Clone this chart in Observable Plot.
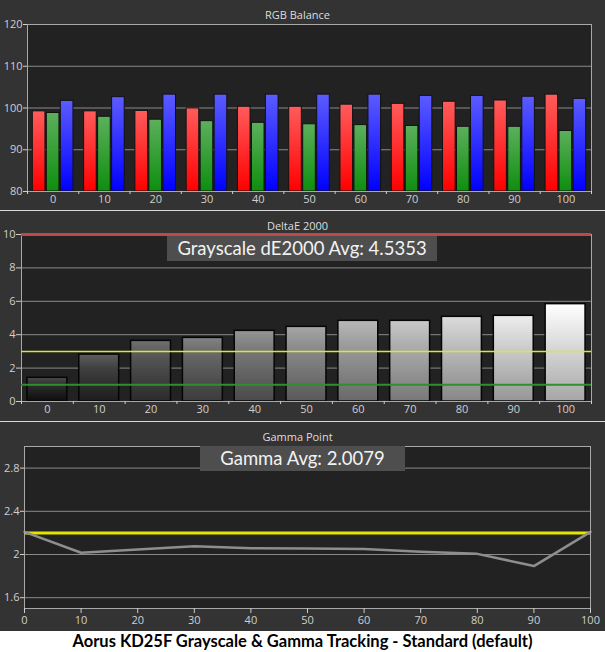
<!DOCTYPE html>
<html>
<head>
<meta charset="utf-8">
<script src="https://cdn.jsdelivr.net/npm/d3@7"></script>
<script src="https://cdn.jsdelivr.net/npm/@observablehq/plot@0.6"></script>
<style>
  html, body { margin: 0; padding: 0; background: #ffffff; }
  #root { width: 605px; height: 652px; position: relative; overflow: hidden; }
  .panel { position: relative; background: #333333; width: 605px; }
  .sep { height: 1px; background: #d9d9d9; }
  .title { box-sizing: border-box; padding-top: 7px; padding-right: 10px; line-height: 16px;
           font-family: "Open Sans", sans-serif; font-size: 11px; color: #dddddd; text-align: center; }
  .panel svg { display: block; }
  .stat { position: absolute; background: #4e4e4e; color: #f2f2f2; font-family: Lato, sans-serif;
          font-size: 18.5px; text-align: center; height: 25px; line-height: 25px; white-space: nowrap; }
  .caption { height: 21px; background: #ffffff; color: #000000; font-family: Lato, sans-serif;
             font-weight: bold; font-size: 16.5px; text-align: center; line-height: 21px; white-space: nowrap; }
</style>
</head>
<body>
<div id="root">
  <div class="panel" id="p1" style="height:210px"><div class="title" style="height:23px">RGB Balance</div></div>
  <div class="sep"></div>
  <div class="panel" id="p2" style="height:210px"><div class="title" style="height:22px">DeltaE 2000</div></div>
  <div class="sep"></div>
  <div class="panel" id="p3" style="height:209px"><div class="title" style="height:23px">Gamma Point</div></div>
  <div class="caption" id="caption"></div>
</div>
<script>
// ---------- data ----------
const levels = [0, 10, 20, 30, 40, 50, 60, 70, 80, 90, 100];
const red   = [99.2, 99.2, 99.3, 99.9, 100.3, 100.3, 100.8, 101.0, 101.5, 101.8, 103.2];
const green = [98.8, 97.9, 97.2, 96.85, 96.45, 96.1, 95.9, 95.7, 95.5, 95.5, 94.5];
const blue  = [101.7, 102.6, 103.2, 103.2, 103.2, 103.2, 103.2, 102.9, 102.9, 102.7, 102.2];
const rgbTicks = [80, 90, 100, 110, 120];

const deltaE = [1.42, 2.81, 3.63, 3.81, 4.23, 4.47, 4.83, 4.83, 5.07, 5.13, 5.83];
const deltaETicks = [0, 2, 4, 6, 8, 10];
const deltaELimitHigh = [10];
const deltaELimitVisible = [3];
const deltaELimitInvisible = [1];
const deltaEAvgText = "Grayscale dE2000 Avg: 4.5353";

const gamma = [2.21, 2.016, 2.046, 2.076, 2.058, 2.055, 2.052, 2.025, 2.006, 1.893, 2.21];
const gammaTicks = [1.6, 2, 2.4, 2.8];
const gammaTarget = [2.2];
const gammaAvgText = "Gamma Avg: 2.0079";

const captionText = "Aorus KD25F Grayscale & Gamma Tracking - Standard (default)";

// ---------- helpers ----------
const baseStyle = { background: "transparent", color: "#cfcfcf", fontFamily: "Open Sans, sans-serif", fontSize: "11px", overflow: "visible" };
const boundaries = [levels[0] - 5, ...levels.map(l => l + 5)];

function addGradients(svg, specs) {
  const defs = d3.select(svg).insert("defs", ":first-child");
  for (const s of specs) {
    const g = defs.append("linearGradient").attr("id", s.id)
      .attr("x1", 0).attr("y1", 0).attr("x2", 0).attr("y2", 1);
    for (const [o, c] of s.stops) g.append("stop").attr("offset", o).attr("stop-color", c);
  }
}

// ---------- panel 1: RGB balance ----------
const channels = [
  { key: "R", values: red,   offset: -2.73, stops: [[0, "#ff5c5c"], [1, "#ff0000"]] },
  { key: "G", values: green, offset: 0,     stops: [[0, "#5cb05c"], [1, "#0e8e0e"]] },
  { key: "B", values: blue,  offset: 2.73,  stops: [[0, "#5c5cff"], [1, "#0000ff"]] }
];
const offsetOf = Object.fromEntries(channels.map(c => [c.key, c.offset]));
const rgbData = channels.flatMap(c => levels.map((l, i) => ({ level: l, channel: c.key, value: c.values[i] })));
const rgbDomain = [rgbTicks[0], rgbTicks[rgbTicks.length - 1]];
const rgbHalf = 1.23;

const plot1 = Plot.plot({
  width: 605, height: 187, marginTop: 1, marginBottom: 19, marginLeft: 27, marginRight: 14,
  style: baseStyle,
  x: { domain: [-5, 105] },
  y: { domain: rgbDomain },
  color: { type: "identity" },
  marks: [
    Plot.frame({ fill: "#222222" }),
    Plot.ruleY(rgbTicks.slice(1, -1), { stroke: "#8a8a8a" }),
    Plot.rect(rgbData, {
      x1: d => d.level + offsetOf[d.channel] - rgbHalf,
      x2: d => d.level + offsetOf[d.channel] + rgbHalf,
      y1: rgbDomain[0], y2: "value",
      fill: d => `url(#grad-${d.channel})`, stroke: "#121212", strokeWidth: 1
    }),
    Plot.frame({ stroke: "#a8a8a8" }),
    Plot.axisY({ ticks: rgbTicks, tickSize: 4, tickPadding: 1, label: null }),
    Plot.axisX({ ticks: levels, tickSize: 0, tickPadding: 4, label: null }),
    Plot.axisX({ ticks: boundaries, tickSize: 3, tickFormat: () => "", label: null })
  ]
});
addGradients(plot1, channels.map(c => ({ id: `grad-${c.key}`, stops: c.stops })));
document.getElementById("p1").appendChild(plot1);

// ---------- panel 2: DeltaE 2000 ----------
const deltaEData = levels.map((l, i) => ({ level: l, value: deltaE[i] }));
const grayHalf = 3.85;
const g = v => d3.rgb(255 * v, 255 * v, 255 * v).formatHex();
const grayStops = levels.map(l => {
  const L = l / 100;
  return { id: `grad-gray-${l}`, stops: [[0, g(Math.min(1, 0.3 + 0.7 * L))], [0.3, g(Math.min(1, 0.18 + 0.72 * L))], [1, g(0.05 + 0.6 * L)]] };
});

const plot2 = Plot.plot({
  width: 605, height: 188, marginTop: 1, marginBottom: 20, marginLeft: 21, marginRight: 14,
  style: baseStyle,
  x: { domain: [-5, 105] },
  y: { domain: [deltaETicks[0], deltaETicks[deltaETicks.length - 1]] },
  color: { type: "identity" },
  marks: [
    Plot.frame({ fill: "#222222" }),
    Plot.ruleY(deltaETicks.slice(1, -1), { stroke: "#8a8a8a" }),
    Plot.rect(deltaEData, {
      x1: d => d.level - grayHalf, x2: d => d.level + grayHalf,
      y1: deltaETicks[0], y2: "value",
      fill: d => `url(#grad-gray-${d.level})`, stroke: "#050505", strokeWidth: 1.5
    }),
    Plot.frame({ stroke: "#a8a8a8" }),
    Plot.ruleY(deltaELimitVisible, { stroke: "#e2e23a", strokeWidth: 1.5 }),
    Plot.ruleY(deltaELimitInvisible, { stroke: "#2e8f2e", strokeWidth: 2 }),
    Plot.ruleY(deltaELimitHigh, { stroke: "#bf4848", strokeWidth: 3 }),
    Plot.axisY({ ticks: deltaETicks, tickSize: 5, tickPadding: 1, label: null }),
    Plot.axisX({ ticks: levels, tickSize: 0, tickPadding: 4, label: null }),
    Plot.axisX({ ticks: boundaries, tickSize: 3, tickFormat: () => "", label: null })
  ]
});
addGradients(plot2, grayStops);
document.getElementById("p2").appendChild(plot2);

// ---------- panel 3: Gamma ----------
const gammaData = levels.map((l, i) => ({ level: l, value: gamma[i] }));
const plot3 = Plot.plot({
  width: 605, height: 186, marginTop: 1, marginBottom: 23, marginLeft: 24, marginRight: 15,
  style: baseStyle,
  x: { domain: [levels[0], levels[levels.length - 1]] },
  y: { domain: [1.5, 3.0] },
  marks: [
    Plot.frame({ fill: "#222222" }),
    Plot.ruleY(gammaTicks, { stroke: "#8a8a8a" }),
    Plot.ruleY(gammaTarget, { stroke: "#e4e400", strokeWidth: 3 }),
    Plot.line(gammaData, { x: "level", y: "value", stroke: "#8e8e8e", strokeWidth: 2.5 }),
    Plot.frame({ stroke: "#a8a8a8" }),
    Plot.axisY({ ticks: gammaTicks, tickSize: 4, tickPadding: 1, tickFormat: d => String(d), label: null }),
    Plot.axisX({ ticks: levels, tickSize: 5, tickPadding: 3, label: null })
  ]
});
document.getElementById("p3").appendChild(plot3);

// ---------- stat boxes & caption ----------
function stat(panelId, text, left, top, width) {
  const el = document.createElement("div");
  el.className = "stat";
  el.textContent = text;
  Object.assign(el.style, { left: left + "px", top: top + "px", width: width + "px" });
  document.getElementById(panelId).appendChild(el);
}
stat("p2", deltaEAvgText, 167, 25, 270);
stat("p3", gammaAvgText, 200, 24, 205);
document.getElementById("caption").textContent = captionText;
</script>
</body>
</html>
